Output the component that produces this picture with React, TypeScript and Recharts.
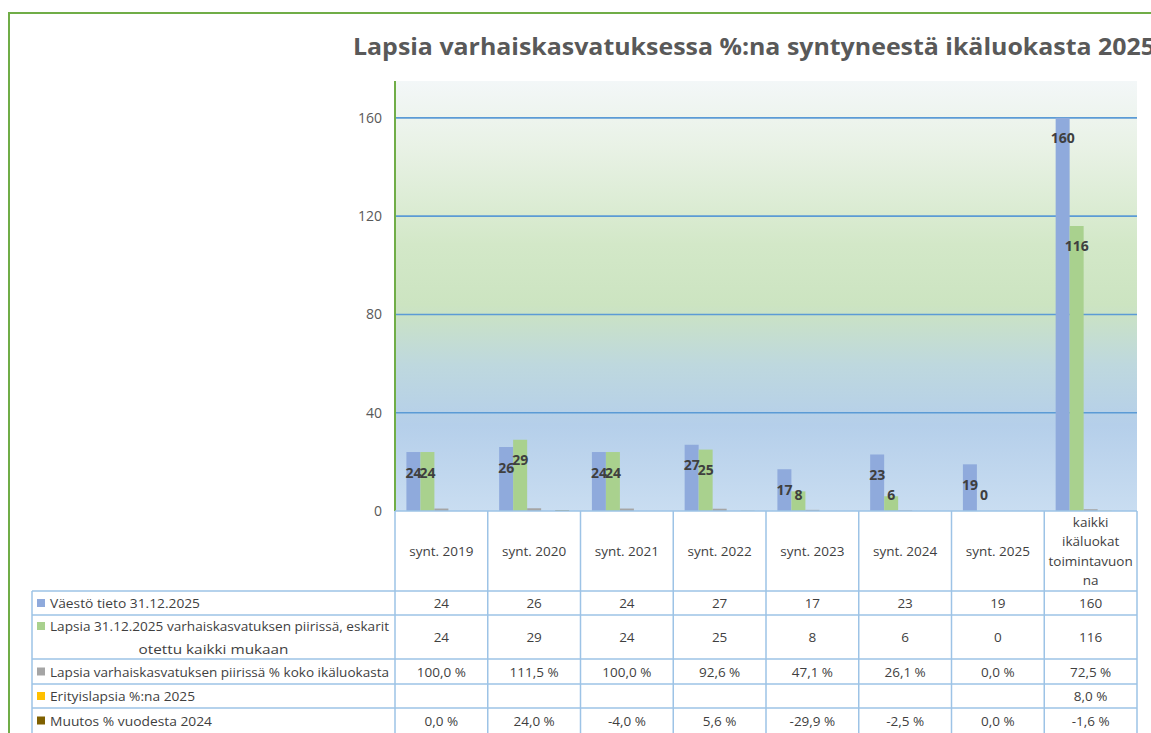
import React from 'react';
import { BarChart, Bar, XAxis, YAxis, CartesianGrid, LabelList } from 'recharts';

// data
const categories = ['synt. 2019', 'synt. 2020', 'synt. 2021', 'synt. 2022', 'synt. 2023', 'synt. 2024', 'synt. 2025', 'kaikki ikäluokat toimintavuonna'];
const categoryLines = [['synt. 2019'], ['synt. 2020'], ['synt. 2021'], ['synt. 2022'], ['synt. 2023'], ['synt. 2024'], ['synt. 2025'], ['kaikki', 'ikäluokat', 'toimintavuon', 'na']];
const vaesto = [24, 26, 24, 27, 17, 23, 19, 160];
const lapsia = [24, 29, 24, 25, 8, 6, 0, 116];
const osuus = [1.0, 1.115, 1.0, 0.926, 0.471, 0.261, 0.0, 0.725];
const erityis: (number | null)[] = [null, null, null, null, null, null, null, 0.08];
const muutos = [0.0, 0.24, -0.04, 0.056, -0.299, -0.025, 0.0, -0.016];
const yTicks = [0, 40, 80, 120, 160];

const seriesNames = [
  'Väestö tieto 31.12.2025',
  'Lapsia 31.12.2025 varhaiskasvatuksen piirissä, eskarit otettu kaikki mukaan',
  'Lapsia varhaiskasvatuksen piirissä % koko ikäluokasta',
  'Erityislapsia %:na 2025',
  'Muutos % vuodesta 2024',
];
const colors = ['#8faadc', '#a9d18e', '#a5a5a5', '#ffc000', '#7f6000'];

const data = categories.map((c, i) => ({
  cat: c,
  vaesto: vaesto[i],
  lapsia: lapsia[i],
  osuus: osuus[i],
  erityis: erityis[i],
  muutos: muutos[i],
}));

const W = 1151;
const H = 733;
const PLOT_LEFT = 395;
const PLOT_RIGHT = 1137;
const PLOT_TOP = 81;
const PLOT_BOTTOM = 511;
const FONT = '"Open Sans", Roboto, sans-serif';
const TEXT = '#3f3f3f';
const BORDER = '#9dc3e6';

const pct = (v: number | null) => (v == null ? '' : (v * 100).toFixed(1).replace('.', ',') + ' %');

// Excel puts the label inside the bar end, but never closer than ~17px to the axis
const renderLabel = (props: any) => {
  const x = Number(props.x);
  const y = Number(props.y);
  const w = Number(props.width);
  const h = Number(props.height);
  const base = y + h;
  const cy = Math.min(y + 20, base - 17);
  return (
    <text x={x + w / 2} y={cy} textAnchor="middle" dominantBaseline="central" fontSize={14} fontWeight={700} fill={TEXT} fontFamily={FONT}>
      {String(props.value)}
    </text>
  );
};

// rows of the data table under the plot
const tableRows = [
  { lines: [seriesNames[0]], values: vaesto.map(String), top: 591, bottom: 615 },
  { lines: ['Lapsia 31.12.2025 varhaiskasvatuksen piirissä, eskarit', 'otettu kaikki mukaan'], values: lapsia.map(String), top: 615, bottom: 659 },
  { lines: [seriesNames[2]], values: osuus.map(pct), top: 659, bottom: 684 },
  { lines: [seriesNames[3]], values: erityis.map(pct), top: 684, bottom: 708 },
  { lines: [seriesNames[4]], values: muutos.map(pct), top: 708, bottom: 733 },
];
// widths of the legend texts as measured in the picture
const legendWidths = [[150], [339, 150], [339], [145], [162]];

const DataTable: React.FC = () => {
  const colW = (PLOT_RIGHT - PLOT_LEFT) / categories.length;
  const leftX = 32;
  return (
    <svg width={W} height={H} style={{ position: 'absolute', left: 0, top: 0, pointerEvents: 'none' }} fontFamily={FONT}>
      {/* header row */}
      <line x1={PLOT_LEFT} x2={PLOT_RIGHT} y1={PLOT_BOTTOM} y2={PLOT_BOTTOM} stroke={BORDER} strokeWidth={1.5} />
      {categories.map((_, i) => (
        <line key={'v' + i} x1={PLOT_LEFT + i * colW} x2={PLOT_LEFT + i * colW} y1={PLOT_BOTTOM} y2={H} stroke={BORDER} strokeWidth={1.5} />
      ))}
      <line x1={PLOT_RIGHT} x2={PLOT_RIGHT} y1={PLOT_BOTTOM} y2={H} stroke={BORDER} strokeWidth={1.5} />
      <line x1={leftX} x2={leftX} y1={591} y2={H} stroke={BORDER} strokeWidth={1.5} />
      {categoryLines.map((lines, i) => {
        const cx = PLOT_LEFT + (i + 0.5) * colW;
        const mid = 551;
        const lh = 19.3;
        return (
          <text key={'c' + i} x={cx} textAnchor="middle" fontSize={13.5} fill={TEXT}>
            {lines.map((l, j) => (
              <tspan key={j} x={cx} y={mid + (j - (lines.length - 1) / 2) * lh} dominantBaseline="central">
                {l}
              </tspan>
            ))}
          </text>
        );
      })}
      {tableRows.map((r, ri) => {
        const mid = (r.top + r.bottom) / 2;
        return (
          <g key={'r' + ri}>
            <line x1={leftX} x2={PLOT_RIGHT} y1={r.top} y2={r.top} stroke={BORDER} strokeWidth={1.5} />
            <rect x={37} y={(r.lines.length > 1 ? mid - 11 : mid) - 4} width={8} height={8} fill={colors[ri]} />
            {r.lines.map((l, j) => {
              const w = legendWidths[ri][j];
              const second = j > 0;
              const x = second ? (leftX + PLOT_LEFT) / 2 - w / 2 : 50;
              const y = r.lines.length > 1 ? mid + (j - 0.5) * 23 : mid;
              return (
                <text key={j} x={x} y={y} dominantBaseline="central" fontSize={13.5} fill={TEXT} textLength={w} lengthAdjust="spacingAndGlyphs">
                  {l}
                </text>
              );
            })}
            {r.values.map((v, i) => (
              <text key={i} x={PLOT_LEFT + (i + 0.5) * colW} y={mid} textAnchor="middle" dominantBaseline="central" fontSize={13.5} fill={TEXT}>
                {v}
              </text>
            ))}
          </g>
        );
      })}
    </svg>
  );
};

const App: React.FC = () => {
  return (
    <div style={{ position: 'absolute', left: 0, top: 0, width: W, height: H, overflow: 'hidden', background: '#fff' }}>
      {/* chart frame, continues past the right and bottom edge */}
      <div style={{ position: 'absolute', left: 8, top: 12, width: 1300, height: 900, border: '2px solid #70ad47', boxSizing: 'border-box' }} />
      <svg width={W} height={70} style={{ position: 'absolute', left: 0, top: 0 }}>
        <text x={353} y={55} fontFamily={FONT} fontSize={24} fontWeight={700} fill="#595959" textLength={802} lengthAdjust="spacingAndGlyphs">
          Lapsia varhaiskasvatuksessa %:na syntyneestä ikäluokasta 2025
        </text>
      </svg>
      <div style={{ position: 'absolute', left: 0, top: 0 }}>
        <BarChart
          width={W}
          height={H}
          data={data}
          margin={{ top: PLOT_TOP, right: W - PLOT_RIGHT, bottom: H - PLOT_BOTTOM, left: PLOT_LEFT - 60 }}
          barCategoryGap={11.4}
          barGap={0}
        >
          <defs>
            <linearGradient id="plotBg" x1="0" y1="0" x2="0" y2="1">
              <stop offset="0%" stopColor="#f3f7f8" />
              <stop offset="15%" stopColor="#e9f2e6" />
              <stop offset="38%" stopColor="#d3e8c8" />
              <stop offset="52%" stopColor="#cce4c1" />
              <stop offset="66%" stopColor="#bed8de" />
              <stop offset="80%" stopColor="#b5cfea" />
              <stop offset="100%" stopColor="#c9ddf1" />
            </linearGradient>
          </defs>
          <CartesianGrid vertical={false} fill="url(#plotBg)" stroke="#5b9bd5" strokeWidth={1.6} horizontalValues={[40, 80, 120, 160]} />
          <XAxis dataKey="cat" hide />
          <XAxis xAxisId="top" dataKey="cat" orientation="top" height={0} tick={false} tickLine={false} axisLine={{ stroke: '#c5e0b4', strokeWidth: 1.5 }} />
          <YAxis
            domain={[0, 175]}
            ticks={yTicks}
            allowDataOverflow
            width={60}
            tickSize={0}
            tickMargin={13}
            tickLine={false}
            axisLine={{ stroke: '#70ad47', strokeWidth: 2 }}
            tick={{ fill: '#595959', fontSize: 14, fontFamily: FONT }}
          />
          <YAxis yAxisId="right" orientation="right" domain={[0, 175]} width={0} tick={false} tickLine={false} axisLine={{ stroke: '#c5e0b4', strokeWidth: 1.5 }} />
          <Bar dataKey="vaesto" name={seriesNames[0]} fill={colors[0]} isAnimationActive={false}>
            <LabelList dataKey="vaesto" content={renderLabel} />
          </Bar>
          <Bar dataKey="lapsia" name={seriesNames[1]} fill={colors[1]} minPointSize={0.01} isAnimationActive={false}>
            <LabelList dataKey="lapsia" content={renderLabel} />
          </Bar>
          <Bar dataKey="osuus" name={seriesNames[2]} fill={colors[2]} isAnimationActive={false} />
          <Bar dataKey="erityis" name={seriesNames[3]} fill={colors[3]} isAnimationActive={false} />
          <Bar dataKey="muutos" name={seriesNames[4]} fill={colors[4]} isAnimationActive={false} />
        </BarChart>
      </div>
      <DataTable />
    </div>
  );
};

export default App;
